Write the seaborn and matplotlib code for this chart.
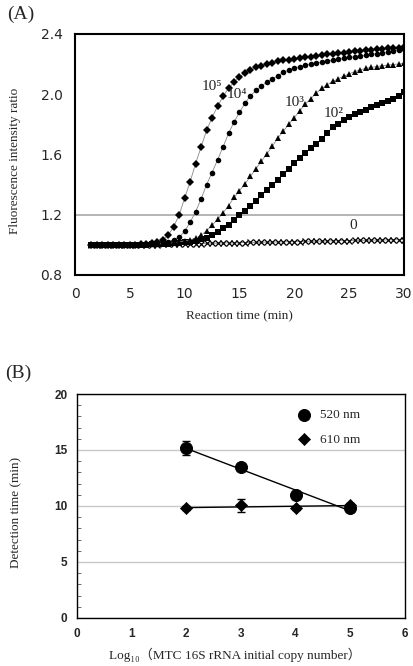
import pandas as pd
import matplotlib
matplotlib.use("Agg")
import matplotlib.pyplot as plt
import seaborn as sns

# -----------------------------------------------------
# DATA  (A) real-time curves, read off the figure
# -----------------------------------------------------

reaction_time = [1.5, 2.0, 2.5, 3.0, 3.5, 4.0, 4.5, 5.0, 5.5, 6.0, 6.5, 7.0, 7.5, 8.0, 8.5,
                 9.0, 9.5, 10.0, 10.5, 11.0, 11.5, 12.0, 12.5, 13.0, 13.5, 14.0, 14.5, 15.0,
                 15.5, 16.0, 16.5, 17.0, 17.5, 18.0, 18.5, 19.0, 19.5, 20.0, 20.5, 21.0, 21.5,
                 22.0, 22.5, 23.0, 23.5, 24.0, 24.5, 25.0, 25.5, 26.0, 26.5, 27.0, 27.5, 28.0,
                 28.5, 29.0, 29.5, 30.0]

ratio_1e5 = [1.000, 0.998, 0.997, 0.998, 0.999, 1.000, 1.000, 1.001, 1.002, 1.004, 1.006,
             1.010, 1.016, 1.030, 1.065, 1.120, 1.200, 1.310, 1.420, 1.540, 1.650, 1.760,
             1.845, 1.920, 1.985, 2.040, 2.080, 2.115, 2.140, 2.160, 2.178, 2.190, 2.200,
             2.210, 2.218, 2.225, 2.230, 2.235, 2.240, 2.245, 2.250, 2.255, 2.260, 2.264,
             2.268, 2.272, 2.276, 2.280, 2.284, 2.288, 2.291, 2.295, 2.298, 2.301, 2.304,
             2.307, 2.310, 2.313]

ratio_1e4 = [0.999, 0.998, 0.997, 0.998, 0.999, 0.999, 1.000, 1.001, 1.002, 1.003, 1.004,
             1.006, 1.009, 1.013, 1.020, 1.032, 1.050, 1.090, 1.150, 1.220, 1.305, 1.400,
             1.480, 1.565, 1.650, 1.740, 1.815, 1.880, 1.940, 1.990, 2.025, 2.055, 2.080,
             2.100, 2.123, 2.145, 2.160, 2.173, 2.184, 2.193, 2.200, 2.207, 2.214, 2.220,
             2.226, 2.232, 2.238, 2.244, 2.249, 2.254, 2.259, 2.264, 2.269, 2.275, 2.281,
             2.287, 2.293, 2.298]

ratio_1e3 = [0.998, 0.997, 0.996, 0.997, 0.998, 0.999, 1.000, 1.000, 1.001, 1.002, 1.003,
             1.004, 1.006, 1.008, 1.011, 1.015, 1.020, 1.026, 1.033, 1.045, 1.063, 1.095,
             1.130, 1.170, 1.212, 1.260, 1.315, 1.360, 1.405, 1.455, 1.505, 1.555, 1.605,
             1.655, 1.710, 1.755, 1.800, 1.845, 1.890, 1.935, 1.970, 2.008, 2.038, 2.063,
             2.085, 2.102, 2.120, 2.135, 2.150, 2.162, 2.171, 2.178, 2.184, 2.189, 2.193,
             2.197, 2.201, 2.204]

ratio_1e2 = [0.999, 0.998, 0.997, 0.997, 0.998, 0.999, 0.999, 1.000, 1.001, 1.001, 1.002,
             1.003, 1.004, 1.006, 1.008, 1.010, 1.013, 1.017, 1.022, 1.028, 1.036, 1.047,
             1.065, 1.088, 1.112, 1.135, 1.165, 1.195, 1.226, 1.260, 1.292, 1.328, 1.363,
             1.400, 1.433, 1.468, 1.505, 1.542, 1.578, 1.610, 1.640, 1.670, 1.705, 1.745,
             1.780, 1.805, 1.828, 1.848, 1.867, 1.884, 1.896, 1.912, 1.927, 1.940, 1.955,
             1.970, 1.985, 2.012]

ratio_0 = [0.998, 0.997, 0.997, 0.998, 0.998, 0.999, 0.999, 1.000, 1.000, 1.001, 1.001,
           1.002, 1.002, 1.003, 1.004, 1.005, 1.006, 1.007, 1.008, 1.009, 1.009, 1.010,
           1.011, 1.011, 1.012, 1.013, 1.013, 1.014, 1.015, 1.016, 1.016, 1.017, 1.018,
           1.018, 1.019, 1.020, 1.021, 1.021, 1.022, 1.023, 1.024, 1.024, 1.025, 1.026,
           1.026, 1.027, 1.028, 1.028, 1.029, 1.030, 1.030, 1.031, 1.032, 1.032, 1.033,
           1.034, 1.034, 1.035]

curve_labels = ["10⁵", "10⁴", "10³", "10²", "0"]

# -----------------------------------------------------
# DATA  (B) detection time vs log10 copy number
# -----------------------------------------------------

log_copy = [2, 3, 4, 5]
det_520 = [15.18, 13.45, 10.95, 9.82]
err_520 = [0.6, 0.2, 0.35, 0.2]
det_610 = [9.82, 10.05, 9.82, 10.10]
err_610 = [0.15, 0.55, 0.15, 0.2]

# -----------------------------------------------------
# STYLE
# -----------------------------------------------------

sns.set_style("white")
serif = ['Liberation Serif', 'DejaVu Serif', 'Noto Sans CJK JP']
plt.rcParams['font.family'] = serif

fig = plt.figure(figsize=(4.13, 6.66), dpi=100)
ax1 = fig.add_axes([0.1816, 0.5871, 0.7966, 0.3619])
ax2 = fig.add_axes([0.1864, 0.0721, 0.794, 0.3363])

# -----------------------------------------------------
# PANEL A
# -----------------------------------------------------

ax1.axhline(1.2, color='#a8a8a8', lw=1.2, zorder=1)

series = [
    (ratio_0, 'x', 4.0),
    (ratio_1e2, 's', 3.8),
    (ratio_1e3, '^', 4.6),
    (ratio_1e4, 'o', 4.0),
    (ratio_1e5, 'D', 3.6),
]
for vals, mk, ms in series:
    sns.lineplot(x=reaction_time, y=vals, ax=ax1, color='#888888', lw=0.6,
                 marker=mk, markersize=ms, markerfacecolor='black',
                 markeredgecolor='black', markeredgewidth=0.9 if mk == 'x' else 0,
                 errorbar=None, zorder=3)

# curve labels
label_pos = [(12.5, 2.05), (14.8, 1.995), (20.0, 1.945), (23.6, 1.875), (25.4, 1.13)]
for txt, (lx, ly) in zip(curve_labels, label_pos):
    ax1.text(lx, ly, txt, fontsize=11, ha='center', va='center', zorder=4)

ax1.set_xlim(0, 30)
ax1.set_ylim(0.8, 2.4)
ax1.set_xticks([0, 5, 10, 15, 20, 25, 30])
ax1.set_yticks([0.8, 1.2, 1.6, 2.0, 2.4])
ax1.set_yticklabels(["0.8", "1.2", "1.6", "2.0", "2.4"])
for lab in ax1.get_xticklabels() + ax1.get_yticklabels():
    lab.set_family(['Liberation Sans Narrow', 'DejaVu Sans'])
    lab.set_fontsize(10)
ax1.tick_params(length=0, pad=9)
for sp in ax1.spines.values():
    sp.set_color('black')
    sp.set_linewidth(1.5)

ax1.set_xlabel("Reaction time (min)", fontsize=9.5)
ax1.set_ylabel("Fluorescence intensity ratio", fontsize=9.5)
ax1.xaxis.set_label_coords(0.5, -0.145)
ax1.yaxis.set_label_coords(-0.163, 0.473)

# -----------------------------------------------------
# PANEL B
# -----------------------------------------------------

ax2.set_axisbelow(True)
ax2.yaxis.grid(True, color='#c8c8c8', lw=1)

sns.regplot(x=log_copy, y=det_520, ax=ax2, ci=None, scatter=False,
            color='black', line_kws={'lw': 1, 'zorder': 2})
sns.regplot(x=log_copy, y=det_610, ax=ax2, ci=None, scatter=False,
            color='black', line_kws={'lw': 1, 'zorder': 2})

ax2.errorbar(log_copy, det_520, yerr=err_520, fmt='none', ecolor='black',
             elinewidth=0.9, capsize=3, zorder=3)
ax2.errorbar(log_copy, det_610, yerr=err_610, fmt='none', ecolor='black',
             elinewidth=0.9, capsize=3, zorder=3)

sns.scatterplot(x=log_copy, y=det_520, ax=ax2, marker='o', s=75, color='black',
                edgecolor='black', label='520 nm', zorder=4)
sns.scatterplot(x=log_copy, y=det_610, ax=ax2, marker='D', s=38, color='black',
                edgecolor='black', label='610 nm', zorder=4)

ax2.legend(loc='upper right', bbox_to_anchor=(0.9, 0.985), frameon=False,
           fontsize=9.5, handletextpad=0.2, labelspacing=0.9)

ax2.set_xlim(0, 6)
ax2.set_ylim(0, 20)
ax2.set_xticks([0, 1, 2, 3, 4, 5, 6])
ax2.set_yticks([0, 5, 10, 15, 20])
ax2.set_yticks(range(0, 21), minor=True)
for lab in ax2.get_xticklabels() + ax2.get_yticklabels():
    lab.set_family(['Liberation Sans', 'DejaVu Sans'])
    lab.set_fontsize(8.5)
    lab.set_weight('bold')
ax2.tick_params(which='major', length=0, pad=7)
ax2.tick_params(axis='y', which='minor', direction='in', length=3, left=True, color='#555555')
for sp in ax2.spines.values():
    sp.set_color('black')
    sp.set_linewidth(1.0)

ax2.set_xlabel("Log₁₀（MTC 16S rRNA initial copy number）", fontsize=9.5)
ax2.set_ylabel("Detection time (min)", fontsize=9.5)
ax2.xaxis.set_label_coords(0.482, -0.135)
ax2.yaxis.set_label_coords(-0.168, 0.47)

# panel letters
fig.text(0.018, 0.979, "(A)", fontsize=14, va='center')
fig.text(0.012, 0.440, "(B)", fontsize=14, va='center')

plt.savefig("out.png", dpi=100)
plt.close()
print("[OK] Saved: out.png")
